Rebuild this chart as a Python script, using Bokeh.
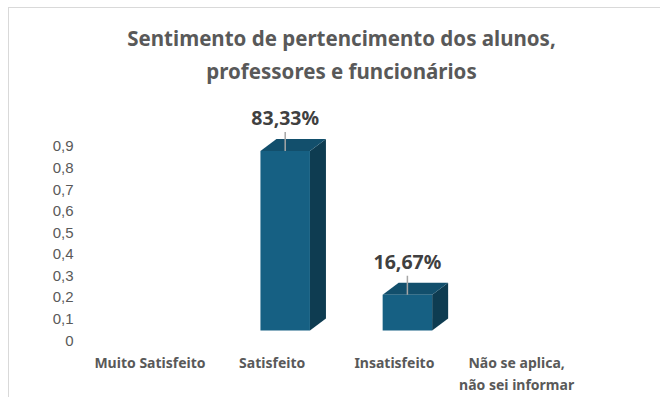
from bokeh.plotting import figure
from bokeh.models import ColumnDataSource, FixedTicker, Range1d, Title
from bokeh.core.properties import value
from bokeh.embed import file_html
from bokeh.resources import INLINE

# ---- data ----
categories = ["Muito Satisfeito", "Satisfeito", "Insatisfeito", "Não se aplica,\nnão sei informar"]
shares = [0.0, 0.8333, 0.1667, 0.0]
share_labels = ["0,00%", "83,33%", "16,67%", "0,00%"]
y_ticks = [0.0, 0.1, 0.2, 0.3, 0.4, 0.5, 0.6, 0.7, 0.8, 0.9]
y_tick_labels = ["0", "0,1", "0,2", "0,3", "0,4", "0,5", "0,6", "0,7", "0,8", "0,9"]
title_lines = ["Sentimento de pertencimento dos alunos,", "professores e funcionários"]

# ---- style constants (3D look) ----
PX_X = 122.2   # pixels per category unit
PX_Y = 215.6   # pixels per value unit
bar_off = 13 / PX_X
bar_w = 49.5 / PX_X
depth_x = 16 / PX_X
depth_y = 12 / PX_Y
floor = 0.046
FRONT = "#166083"
TOP = "#124F6C"
SIDE = "#0E3C51"
TXT = "#595959"

W, H = 652, 390
FRAME_L, FRAME_R, FRAME_T, FRAME_B = 70, 594, 81, 332
ZERO_Y = 332
CAT0_X = 140.5

p = figure(width=W, height=H, output_backend="svg", toolbar_location=None, title=None,
           x_range=Range1d((FRAME_L - CAT0_X) / PX_X, (FRAME_R - CAT0_X) / PX_X),
           y_range=Range1d((ZERO_Y - FRAME_B) / PX_Y, (ZERO_Y - FRAME_T) / PX_Y),
           min_border_left=FRAME_L, min_border_right=W - FRAME_R,
           min_border_bottom=H - FRAME_B, min_border_top=FRAME_T)
p.styles = {"margin-left": "8px", "margin-top": "7px",
            "border-left": "1px solid #d9d9d9", "border-top": "1px solid #d9d9d9"}

t2 = Title(text=title_lines[1], align="center", text_font="Noto Sans", text_font_size="20.5px",
           text_font_style="bold", text_color=TXT)
t1 = Title(text=title_lines[0], align="center", text_font="Noto Sans", text_font_size="20.5px",
           text_font_style="bold", text_color=TXT, standoff=-4)
p.add_layout(t2, "above")
p.add_layout(t1, "above")

p.grid.visible = False
p.outline_line_color = None
p.background_fill_color = "white"
p.border_fill_color = "white"

xs_front_l, xs_front_r, tops, bots = [], [], [], []
side_xs, side_ys, top_xs, top_ys = [], [], [], []
lab_x, lab_y, lab_t = [], [], []
for i, v in enumerate(shares):
    if v <= 0:
        continue
    xl = i + bar_off - bar_w / 2
    xr = i + bar_off + bar_w / 2
    t = floor + v
    xs_front_l.append(xl); xs_front_r.append(xr); tops.append(t); bots.append(floor)
    side_xs.append([xr, xr + depth_x, xr + depth_x, xr])
    side_ys.append([floor, floor + depth_y, t + depth_y, t])
    top_xs.append([xl, xl + depth_x, xr + depth_x, xr])
    top_ys.append([t, t + depth_y, t + depth_y, t])
    lab_x.append(i + bar_off); lab_y.append(t); lab_t.append(share_labels[i])

p.patches(side_xs, side_ys, fill_color=SIDE, line_color=None)
p.patches(top_xs, top_ys, fill_color=TOP, line_color=None)
p.quad(left=xs_front_l, right=xs_front_r, top=tops, bottom=bots, fill_color=FRONT, line_color=None)

lsrc = ColumnDataSource(dict(x=lab_x, y=lab_y, y1=[y + 19 / PX_Y for y in lab_y], t=lab_t))
p.segment(x0="x", y0="y", x1="x", y1="y1", source=lsrc, line_color="#A6A6A6", line_width=1.5)
p.text(x="x", y="y", text="t", source=lsrc, y_offset=-33, text_align="center", text_baseline="middle",
       text_font=value("Noto Sans"), text_font_style="bold", text_font_size="19.5px", text_color="#404040")

# axes
p.yaxis.ticker = FixedTicker(ticks=y_ticks)
p.yaxis.major_label_overrides = {t: l for t, l in zip(y_ticks, y_tick_labels)}
p.yaxis.axis_line_color = None
p.yaxis.major_tick_line_color = None
p.yaxis.minor_tick_line_color = None
p.yaxis.major_tick_out = 0
p.yaxis.major_tick_in = 0
p.yaxis.major_label_standoff = 6
p.yaxis.major_label_text_font = "Liberation Sans"
p.yaxis.major_label_text_font_size = "15px"
p.yaxis.major_label_text_color = TXT

p.xaxis.ticker = FixedTicker(ticks=list(range(len(categories))))
p.xaxis.major_label_overrides = {i: c for i, c in enumerate(categories)}
p.xaxis.axis_line_color = None
p.xaxis.major_tick_line_color = None
p.xaxis.minor_tick_line_color = None
p.xaxis.major_tick_out = 0
p.xaxis.major_tick_in = 0
p.xaxis.axis_label_standoff = 0
p.xaxis.major_label_standoff = 12
p.xaxis.major_label_text_font = "Noto Sans"
p.xaxis.major_label_text_font_style = "bold"
p.xaxis.major_label_text_font_size = "14px"
p.xaxis.major_label_text_color = TXT

open("out.html", "w").write(file_html(p, INLINE))
